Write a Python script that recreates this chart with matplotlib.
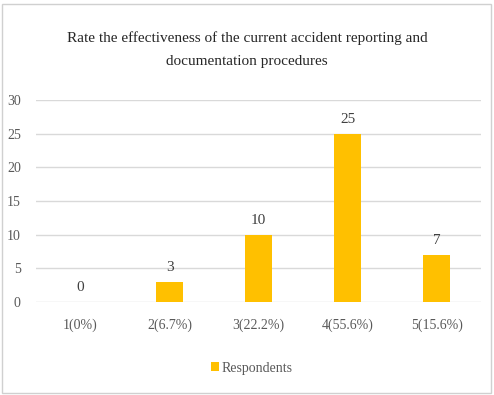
import matplotlib.pyplot as plt
from matplotlib.patches import Rectangle

categories = ['1(0%)', '2(6.7%)', '3(22.2%)', '4(55.6%)', '5(15.6%)']
respondents = [0, 3, 10, 25, 7]
y_ticks = [0, 5, 10, 15, 20, 25, 30]
title = 'Rate the effectiveness of the current accident reporting and\ndocumentation procedures'

plt.rcParams['font.family'] = ['Liberation Serif', 'DejaVu Serif']

fig = plt.figure(figsize=(4.94, 3.95), dpi=100)
ax = fig.add_axes([0.073, 0.235, 0.901, 0.512])

x = range(len(categories))
bars = ax.bar(x, respondents, width=0.31, color='#FFC000', zorder=3, label='Respondents')
for xi, v in zip(x, respondents):
    ax.text(xi, v + 1.2, str(v), ha='center', va='bottom', fontsize=11, color='#404040')

ax.set_xlim(-0.5, len(categories) - 0.5)
ax.set_ylim(0, 30)
ax.set_yticks(y_ticks)
ax.set_xticks(list(x))
ax.set_xticklabels(categories, fontsize=10, color='#595959')
ax.tick_params(axis='y', labelsize=10, labelcolor='#595959', length=0, pad=11)
ax.tick_params(axis='x', length=0, pad=12)
ax.grid(axis='y', color='#d9d9d9', linewidth=1, zorder=0)
for s in ax.spines.values():
    s.set_visible(False)

fig.text(0.5, 0.874, title, ha='center', va='center', fontsize=11, color='#262626', linespacing=1.95)

leg = fig.legend(handles=[bars], loc='center', bbox_to_anchor=(0.51, 0.068), frameon=False,
                 fontsize=10, handlelength=0.6, handleheight=0.6, handletextpad=0.2)
for t in leg.get_texts():
    t.set_color('#595959')

fig.patches.append(Rectangle((0.004, 0.006), 0.99, 0.985, transform=fig.transFigure,
                             fill=False, edgecolor='#d0d0d0', linewidth=1))

fig.savefig('out.png', dpi=100)
